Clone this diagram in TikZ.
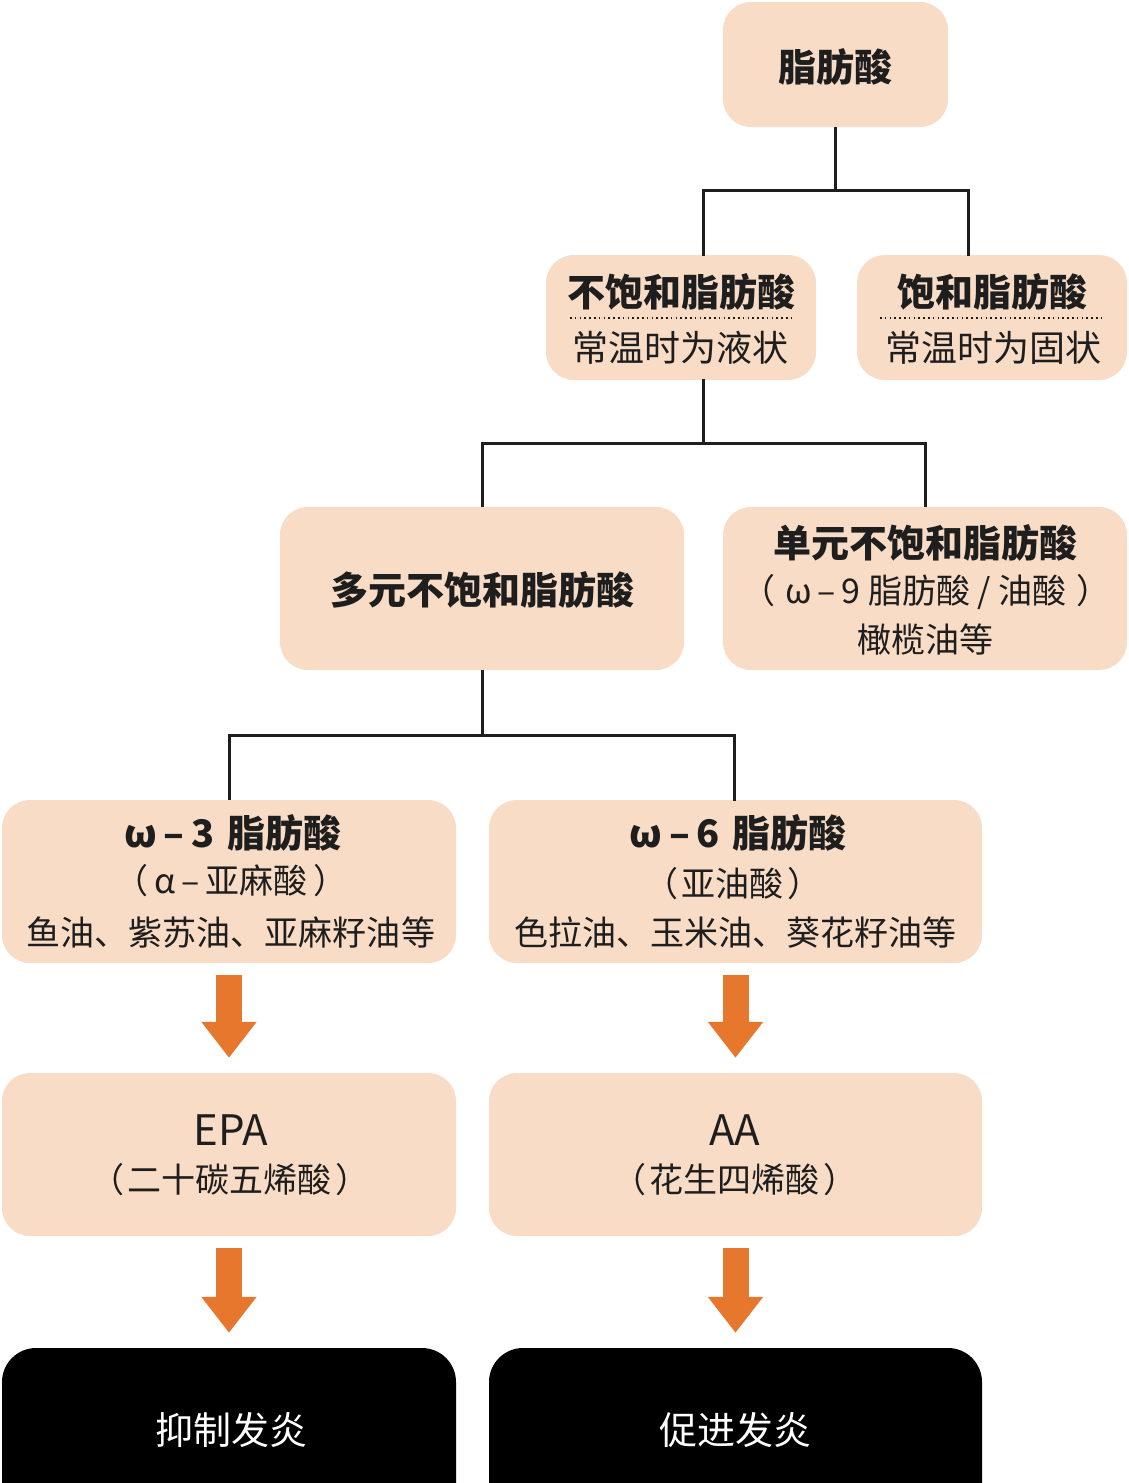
\documentclass[tikz,border=0pt]{standalone}
\usepackage{fontspec}
\setmainfont{Noto Sans CJK SC}
\usetikzlibrary{arrows.meta}
\definecolor{peach}{HTML}{F8DCC6}
\definecolor{arr}{HTML}{E8772E}
\definecolor{ink}{HTML}{1E1E1E}
\begin{document}
\begin{tikzpicture}[x=1pt,y=-1pt,
  box/.style={fill=peach, draw=none, rounded corners=28pt, inner sep=0pt},
  dark/.style={fill=black, draw=none, rounded corners=34pt, inner sep=0pt},
  ttl/.style={inner sep=0pt, text=ink, font=\fontsize{38}{44}\selectfont\bfseries},
  sub/.style={inner sep=0pt, text=ink, font=\fontsize{36}{42}\selectfont},
  small/.style={inner sep=0pt, text=ink, font=\fontsize{34}{40}\selectfont},
  latin/.style={inner sep=0pt, text=ink, font=\fontsize{42}{48}\selectfont},
  wtxt/.style={inner sep=0pt, text=white, font=\fontsize{38}{44}\selectfont},
  conn/.style={draw=ink, line width=3pt},
  bigarrow/.style={draw=arr, line width=26pt, -{Triangle[width=53pt,length=36pt]}, shorten <=12pt, shorten >=15pt},
  dots/.style={draw=ink, line width=1.6pt, dash pattern=on 1.6pt off 3.2pt}
]
\useasboundingbox (0,0) rectangle (1128,1483);
\clip (0,0) rectangle (1128,1483);

% boxes
\node[box, minimum width=225pt, minimum height=125pt] (fa) at (835.5,64.5) {};
\node[box, minimum width=270pt, minimum height=125pt] (unsat) at (681,317.5) {};
\node[box, minimum width=270pt, minimum height=125pt] (sat) at (992,317.5) {};
\node[box, minimum width=404pt, minimum height=163pt] (poly) at (482,588.5) {};
\node[box, minimum width=404pt, minimum height=163pt] (mono) at (925,588.5) {};
\node[box, minimum width=454pt, minimum height=163pt] (w3) at (229,881.5) {};
\node[box, minimum width=493pt, minimum height=163pt] (w6) at (735.5,881.5) {};
\node[box, minimum width=454pt, minimum height=163pt] (epa) at (229,1154.5) {};
\node[box, minimum width=493pt, minimum height=163pt] (aa) at (735.5,1154.5) {};
\node[dark, minimum width=454pt, minimum height=172pt] (inh) at (229,1434) {};
\node[dark, minimum width=493pt, minimum height=172pt] (pro) at (735.5,1434) {};

% texts
\node[ttl] (t-fa) at (835,67) {脂肪酸};
\node[ttl] (t-unsat) at (681,292) {不饱和脂肪酸};
\draw[dots] (570,318) -- (792,318);
\node[sub] (s-unsat) at (680,348) {常温时为液状};
\node[ttl] (t-sat) at (992,292) {饱和脂肪酸};
\draw[dots] (880,318) -- (1104,318);
\node[sub] (s-sat) at (993,348) {常温时为固状};
\node[ttl] (t-poly) at (482,590) {多元不饱和脂肪酸};
\node[ttl] (t-mono) at (925,543) {单元不饱和脂肪酸};
\node[small] (s-mono1) at (926,592) {（\hspace{10pt}ω\,–\,9 脂肪酸 / 油酸\hspace{10pt}）};
\node[small] (s-mono2) at (925,640) {橄榄油等};
\node[ttl] (t-w3) at (233,833) {ω\,–\,3\,\,脂肪酸};
\node[small] (s-w3a) at (231,881) {（\hspace{6pt}α\,–\,亚麻酸\hspace{6pt}）};
\node[small] (s-w3b) at (231,932) {鱼油、紫苏油、亚麻籽油等};
\node[ttl] (t-w6) at (738,833) {ω\,–\,6\,\,脂肪酸};
\node[small] (s-w6a) at (733,884) {（\hspace{4pt}亚油酸\hspace{4pt}）};
\node[small] (s-w6b) at (735,932) {色拉油、玉米油、葵花籽油等};
\node[latin] (t-epa) at (231,1130) {EPA};
\node[small] (s-epa) at (230,1180) {（\hspace{4pt}二十碳五烯酸\hspace{4pt}）};
\node[latin] (t-aa) at (735,1130) {AA};
\node[small] (s-aa) at (735,1180) {（\hspace{4pt}花生四烯酸\hspace{4pt}）};
\node[wtxt] (t-inh) at (231,1430) {抑制发炎};
\node[wtxt] (t-pro) at (735,1430) {促进发炎};

% tree connectors
\coordinate (j1) at (835.5,190);
\coordinate (ut) at (703,256);
\coordinate (st) at (968,256);
\draw[conn] (fa.south) -- (j1);
\draw[conn] (ut) |- (j1) -| (st);

\coordinate (ub) at (703,379);
\coordinate (j2) at (703,443);
\draw[conn] (ub) -- (j2);
\draw[conn] (poly.north) |- (j2) -| (mono.north);

\coordinate (j3) at (482,735);
\coordinate (w6t) at (734,801);
\draw[conn] (poly.south) -- (j3);
\draw[conn] (w3.north) |- (j3) -| (w6t);

% orange arrows
\draw[bigarrow] (w3.south) -- (epa.north);
\draw[bigarrow] (w6.south) -- (aa.north);
\draw[bigarrow] (epa.south) -- (inh.north);
\draw[bigarrow] (aa.south) -- (pro.north);
\end{tikzpicture}
\end{document}
